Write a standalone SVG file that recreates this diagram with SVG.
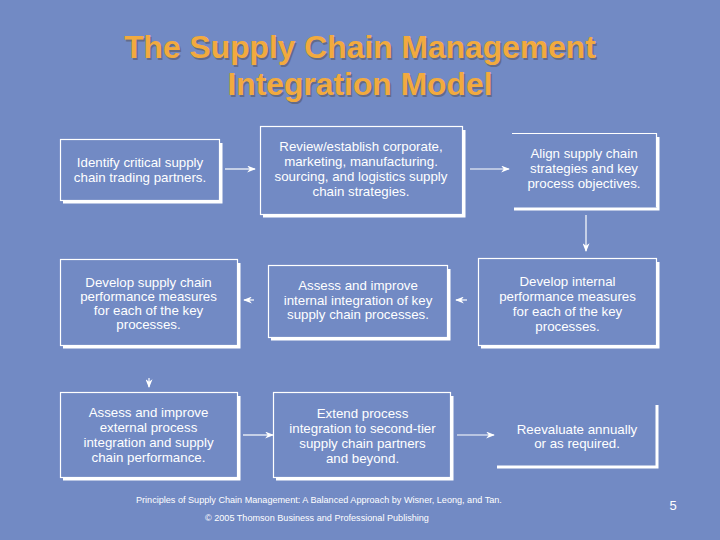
<svg xmlns="http://www.w3.org/2000/svg" width="720" height="540" viewBox="0 0 720 540">
<defs>
<style>
.title{font-family:"Liberation Sans",Arial,sans-serif;font-weight:bold;font-size:31.8px;text-anchor:middle}
.t{font-family:"Liberation Sans",Arial,sans-serif;font-size:13.3px;fill:#fff;text-anchor:middle}
.f{font-family:"Liberation Sans",Arial,sans-serif;font-size:9.1px;fill:#fff}
.edge{fill:none;stroke:#fff;stroke-width:1.2}
.shadow{fill:none;stroke:#fff;stroke-width:3}
.con{stroke:#fff;stroke-width:1.2;fill:none}
</style>
<marker id="ah" viewBox="0 0 10 8" refX="9" refY="4" markerWidth="9" markerHeight="7" markerUnits="userSpaceOnUse" orient="auto">
<path d="M0,0 L10,4 L0,8 L3,4 Z" fill="#fff"/>
</marker>
</defs>
<rect width="720" height="540" fill="#728AC4"/>
<g id="title">
<text class="title" x="361.5" y="59.5" fill="#5C5E72" opacity="0.7">The Supply Chain Management</text>
<text class="title" x="361.5" y="96.5" fill="#5C5E72" opacity="0.7">Integration Model</text>
<text class="title" x="360" y="58" fill="#F2AA3E">The Supply Chain Management</text>
<text class="title" x="360" y="95" fill="#F2AA3E">Integration Model</text>
</g>
<g id="connectors">
<line class="con" x1="225" y1="169" x2="255" y2="169" marker-end="url(#ah)"/>
<line class="con" x1="470" y1="169" x2="509" y2="169" marker-end="url(#ah)"/>
<line class="con" x1="586" y1="215" x2="586" y2="251" marker-end="url(#ah)"/>
<line class="con" x1="467" y1="300" x2="456" y2="300" marker-end="url(#ah)"/>
<line class="con" x1="254" y1="300" x2="244" y2="300" marker-end="url(#ah)"/>
<line class="con" x1="149" y1="378" x2="149" y2="387" marker-end="url(#ah)"/>
<line class="con" x1="243" y1="435" x2="273" y2="435" marker-end="url(#ah)"/>
<line class="con" x1="457" y1="435" x2="494" y2="435" marker-end="url(#ah)"/>
</g>
<g id="n1">
<rect class="edge" x="60.5" y="139.5" width="159" height="61"/>
<path class="shadow" d="M221,143 V202 H63"/>
<text class="t" x="140" y="167">Identify critical supply</text>
<text class="t" x="140" y="182">chain trading partners.</text>
</g>
<g id="n2">
<rect class="edge" x="260.5" y="126.5" width="202" height="88"/>
<path class="shadow" d="M464,130 V216 H263"/>
<text class="t" x="361" y="151">Review/establish corporate,</text>
<text class="t" x="361" y="166">marketing, manufacturing.</text>
<text class="t" x="361" y="181">sourcing, and logistics supply</text>
<text class="t" x="361" y="196">chain strategies.</text>
</g>
<g id="n3">
<path class="edge" d="M512,133.5 H656.5 V207"/>
<path class="shadow" d="M658,137 V209 H514"/>
<text class="t" x="584" y="158">Align supply chain</text>
<text class="t" x="584" y="173">strategies and key</text>
<text class="t" x="584" y="188">process objectives.</text>
</g>
<g id="n6">
<rect class="edge" x="478.5" y="258.5" width="178" height="87"/>
<path class="shadow" d="M658,262 V347 H481"/>
<text class="t" x="567.5" y="286">Develop internal</text>
<text class="t" x="567.5" y="301">performance measures</text>
<text class="t" x="567.5" y="316">for each of the key</text>
<text class="t" x="567.5" y="331">processes.</text>
</g>
<g id="n5">
<rect class="edge" x="268.5" y="265.5" width="179" height="72"/>
<path class="shadow" d="M449,269 V339 H271"/>
<text class="t" x="358" y="290">Assess and improve</text>
<text class="t" x="358" y="305">internal integration of key</text>
<text class="t" x="358" y="319">supply chain processes.</text>
</g>
<g id="n4">
<rect class="edge" x="60.5" y="259.5" width="177" height="86"/>
<path class="shadow" d="M239,263 V347 H63"/>
<text class="t" x="148.5" y="287">Develop supply chain</text>
<text class="t" x="148.5" y="301">performance measures</text>
<text class="t" x="148.5" y="315">for each of the key</text>
<text class="t" x="148.5" y="329">processes.</text>
</g>
<g id="n7">
<rect class="edge" x="60.5" y="392.5" width="177" height="85"/>
<path class="shadow" d="M239,396 V479 H63"/>
<text class="t" x="148.5" y="417">Assess and improve</text>
<text class="t" x="148.5" y="432">external process</text>
<text class="t" x="148.5" y="447">integration and supply</text>
<text class="t" x="148.5" y="462">chain performance.</text>
</g>
<g id="n8">
<rect class="edge" x="273.5" y="392.5" width="177" height="85"/>
<path class="shadow" d="M452,396 V479 H276"/>
<text class="t" x="362.5" y="418">Extend process</text>
<text class="t" x="362.5" y="433">integration to second-tier</text>
<text class="t" x="362.5" y="448">supply chain partners</text>
<text class="t" x="362.5" y="463">and beyond.</text>
</g>
<g id="n9">
<path class="shadow" d="M657,405 V467 H497"/>
<text class="t" x="577" y="434">Reevaluate annually</text>
<text class="t" x="577" y="448">or as required.</text>
</g>
<g id="footer">
<text class="f" x="136" y="503">Principles of Supply Chain Management: A Balanced Approach by Wisner, Leong, and Tan.</text>
<text class="f" x="205" y="521">©  2005 Thomson Business and Professional Publishing</text>
<text x="673" y="510" font-family="'Liberation Sans',Arial,sans-serif" font-size="13" fill="#fff" text-anchor="middle">5</text>
</g>
</svg>
